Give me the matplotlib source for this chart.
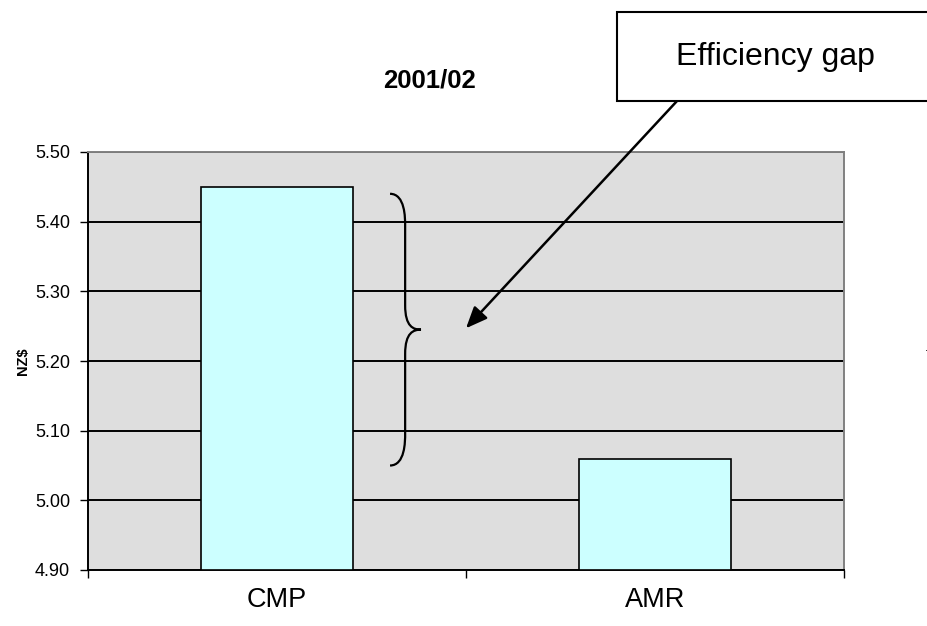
import matplotlib
matplotlib.use("Agg")
import matplotlib.pyplot as plt
from matplotlib.patches import Rectangle, PathPatch
from matplotlib.path import Path
import numpy as np

plt.rcParams['font.family'] = ['Liberation Sans', 'DejaVu Sans']

# Data
categories = ["CMP", "AMR"]
values = [5.45, 5.06]
y_ticks = [4.90, 5.00, 5.10, 5.20, 5.30, 5.40, 5.50]
title = "2001/02"
y_label = "NZ$"
callout = "Efficiency gap"

W, H = 928, 626
fig = plt.figure(figsize=(W / 100, H / 100), dpi=100)
fig.patch.set_facecolor("white")

ax = fig.add_axes([88 / W, 1 - 570 / H, (844 - 88) / W, (570 - 152) / H])
ax.set_facecolor("#dedede")

x = np.arange(len(categories))
ymin, ymax = y_ticks[0], y_ticks[-1]
ax.bar(x, np.array(values) - ymin, bottom=ymin, width=0.4,
       color="#ccffff", edgecolor="black", linewidth=1.2, zorder=3)

ax.set_xlim(-0.5, len(categories) - 0.5)
ax.set_ylim(ymin, ymax)
ax.set_yticks(y_ticks)
ax.set_yticklabels([f"{v:.2f}" for v in y_ticks], fontsize=13)
ax.yaxis.grid(True, color="black", linewidth=1.4, zorder=1)
ax.set_axisbelow(True)

ax.set_xticks(x)
ax.set_xticklabels(categories, fontsize=19.5)
ax.set_xticks(np.arange(len(categories) + 1) - 0.5, minor=True)
ax.tick_params(axis="x", which="major", length=0, pad=12)
ax.tick_params(axis="x", which="minor", length=6, width=1, direction="out")
ax.tick_params(axis="y", length=6, width=1, direction="out", pad=7)

for side in ("left", "bottom"):
    ax.spines[side].set_color("black")
    ax.spines[side].set_linewidth(1.4)
for side in ("top", "right"):
    ax.spines[side].set_color("#808080")
    ax.spines[side].set_linewidth(1.4)

fig.text(430 / W, 1 - 80 / H, title, fontsize=18.5, fontweight="bold",
         ha="center", va="center")
fig.text(23 / W, 1 - 361 / H, y_label, fontsize=10.5, fontweight="bold",
         rotation=90, ha="center", va="center")
# Clipped axis label of the neighbouring chart at the right edge
fig.text(933 / W, 1 - 358 / H, y_label, fontsize=10.5, fontweight="bold",
         rotation=90, ha="center", va="center")

# Curly brace spanning the two bar heights
top, bot = 5.44, 5.05
mid = (top + bot) / 2
xl, xs, xt = 0.299, 0.339, 0.381
r = 0.035
verts = [
    (xl, top),
    (xs, top), (xs, top - r), (xs, top - r - 0.01),
    (xs, mid + r),
    (xs, mid + 0.004), (xt - 0.02, mid), (xt, mid),
    (xt - 0.02, mid), (xs, mid - 0.004), (xs, mid - r),
    (xs, bot + r + 0.01),
    (xs, bot + r), (xs, bot), (xl, bot),
]
codes = [Path.MOVETO,
         Path.CURVE4, Path.CURVE4, Path.CURVE4,
         Path.LINETO,
         Path.CURVE4, Path.CURVE4, Path.CURVE4,
         Path.CURVE4, Path.CURVE4, Path.CURVE4,
         Path.LINETO,
         Path.CURVE4, Path.CURVE4, Path.CURVE4]
ax.add_patch(PathPatch(Path(verts, codes), facecolor="none",
                       edgecolor="black", linewidth=1.6, zorder=4))

# Callout box with arrow
fig.add_artist(Rectangle((617 / W, 1 - 101 / H), (945 - 617) / W, 89 / H,
                         transform=fig.transFigure, facecolor="white",
                         edgecolor="black", linewidth=1.5, clip_on=False))
fig.text(775 / W, 1 - 57 / H, callout, fontsize=23, ha="center", va="center")
ax.annotate("", xy=(0.5, 5.247), xycoords="data",
            xytext=(677, H - 101), textcoords="figure pixels",
            arrowprops=dict(arrowstyle="-|>,head_length=1.3,head_width=0.55",
                            color="black", linewidth=1.8,
                            shrinkA=0, shrinkB=0),
            zorder=5)

fig.savefig("out.png", dpi=100)
